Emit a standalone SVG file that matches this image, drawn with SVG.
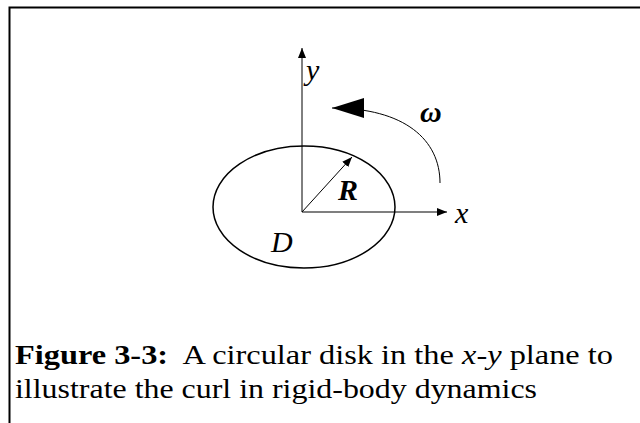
<svg xmlns="http://www.w3.org/2000/svg" width="640" height="423" viewBox="0 0 640 423">
<style>
.ln{stroke:#000;fill:none}
.t{font-family:"Liberation Serif","Times New Roman",serif;fill:#000}
.lbl{font-size:30px;font-style:italic}
</style>
<defs>
<marker id="ah" viewBox="0 0 10 10" refX="10" refY="5" markerWidth="10" markerHeight="10" markerUnits="userSpaceOnUse" orient="auto">
<path d="M0,1 L10,5 L0,9 z" fill="#000"/>
</marker>
<marker id="big" viewBox="0 0 10 10" refX="10" refY="5" markerWidth="32" markerHeight="20" markerUnits="userSpaceOnUse" orient="auto" preserveAspectRatio="none">
<path d="M0,0 L10,5 L0,10 z" fill="#000"/>
</marker>
</defs>
<rect width="640" height="423" fill="#fff"/>
<g id="frame">
<path class="ln" d="M9.5,423 V7.5 H640" stroke-width="2"/>
</g>
<g id="disk">
<ellipse class="ln" cx="304" cy="207" rx="91" ry="61" stroke-width="1.5"/>
<text class="t lbl" x="271" y="252">D</text>
</g>
<g id="connectors">
<line class="ln" x1="302" y1="212" x2="302" y2="48" stroke-width="1" marker-end="url(#ah)"/>
<line class="ln" x1="302" y1="212" x2="447" y2="212" stroke-width="1.2" marker-end="url(#ah)"/>
<line class="ln" x1="302" y1="212" x2="352" y2="157" stroke-width="1" marker-end="url(#ah)"/>
<path class="ln" d="M440,183 C440,140 405,108 332,108" stroke-width="1" marker-end="url(#big)"/>
</g>
<g id="labels">
<text class="t lbl" x="306" y="80">y</text>
<text class="t lbl" x="455" y="223">x</text>
<text class="t lbl" x="338" y="200" font-weight="bold">R</text>
<text class="t lbl" x="420" y="122" font-weight="bold">ω</text>
</g>
<g id="caption">
<text class="t" x="15" y="364" font-size="28" xml:space="preserve" textLength="598" lengthAdjust="spacingAndGlyphs"><tspan font-weight="bold">Figure 3-3:</tspan>  A circular disk in the <tspan font-style="italic">x</tspan>-<tspan font-style="italic">y</tspan> plane to</text>
<text class="t" x="15" y="398" font-size="28" textLength="522" lengthAdjust="spacingAndGlyphs">illustrate the curl in rigid-body dynamics</text>
</g>
</svg>
